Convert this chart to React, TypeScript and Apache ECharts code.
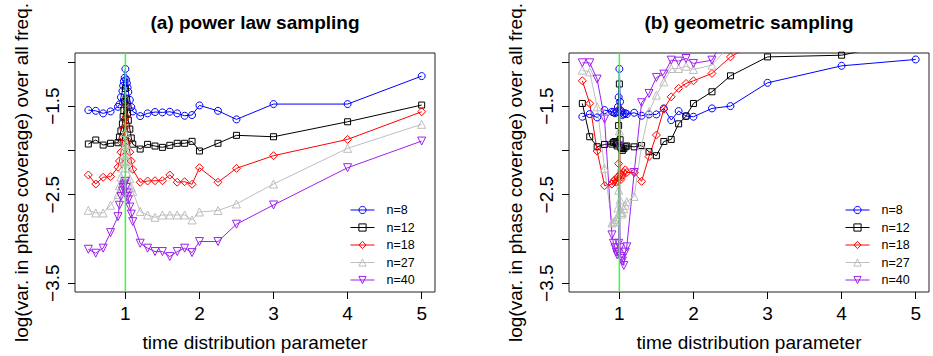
import React, { useEffect, useRef } from "react";
import * as echarts from "echarts";

// time distribution parameter grid
const xs = [0.5, 0.6, 0.7, 0.8, 0.9, 0.92, 0.94, 0.96, 0.97, 0.98, 0.99, 1, 1.01, 1.02, 1.03, 1.04, 1.06, 1.08, 1.1, 1.2, 1.3, 1.4, 1.5, 1.6, 1.7, 1.8, 1.9, 2, 2.25, 2.5, 3, 4, 5];

const seriesNames = ["n=8", "n=12", "n=18", "n=27", "n=40"];
const colors = ["#0000FF", "#000000", "#FF0000", "#BEBEBE", "#A020F0"];
const symbols = ["circle", "rect", "diamond", "triangle", "triangle"];
const symbolRotates = [0, 0, 0, 0, 180];
const symbolSizes = [7, 6, 8, 8, 8];

// (a) power law sampling
const a8 = [-1.545, -1.553, -1.582, -1.56, -1.508, -1.48, -1.4, -1.33, -1.27, -1.22, -1.18, -1.08, -1.2, -1.24, -1.29, -1.34, -1.43, -1.51, -1.56, -1.613, -1.582, -1.567, -1.571, -1.564, -1.582, -1.609, -1.601, -1.492, -1.553, -1.65, -1.477, -1.477, -1.161];
const a12 = [-1.928, -1.883, -1.94, -1.92, -1.914, -1.85, -1.78, -1.7, -1.62, -1.55, -1.45, -1.3, -1.42, -1.5, -1.58, -1.66, -1.76, -1.86, -1.93, -1.985, -1.932, -1.951, -1.966, -1.943, -1.92, -1.92, -1.898, -2.007, -1.92, -1.83, -1.846, -1.677, -1.488];
const a18 = [-2.278, -2.38, -2.304, -2.297, -2.19, -2.12, -2.02, -1.92, -1.85, -1.76, -1.65, -1.5, -1.62, -1.72, -1.82, -1.9, -2.02, -2.12, -2.214, -2.36, -2.346, -2.343, -2.343, -2.278, -2.36, -2.354, -2.383, -2.196, -2.36, -2.203, -2.06, -1.876, -1.564];
const a27 = [-2.677, -2.707, -2.707, -2.62, -2.5, -2.4, -2.3, -2.2, -2.12, -2.05, -1.95, -1.8, -1.93, -2.03, -2.12, -2.2, -2.32, -2.42, -2.466, -2.69, -2.73, -2.756, -2.73, -2.73, -2.73, -2.73, -2.786, -2.696, -2.68, -2.605, -2.38, -1.977, -1.706];
const a40 = [-3.117, -3.162, -3.105, -2.929, -2.749, -2.62, -2.52, -2.46, -2.42, -2.4, -2.38, -2.35, -2.42, -2.48, -2.52, -2.56, -2.64, -2.72, -2.805, -3.049, -3.105, -3.143, -3.143, -3.2, -3.143, -3.105, -3.155, -3.03, -3.03, -2.834, -2.617, -2.196, -1.895];

// (b) geometric sampling
const b8 = [-1.62, -1.59, -1.628, -1.545, -1.564, -1.57, -1.58, -1.57, -1.56, -1.51, -1.4, -1.08, -1.45, -1.55, -1.57, -1.6, -1.59, -1.58, -1.59, -1.575, -1.609, -1.594, -1.594, -1.526, -1.658, -1.556, -1.613, -1.62, -1.526, -1.5, -1.237, -1.045, -0.973];
const b12 = [-1.47, -1.846, -1.959, -1.933, -1.929, -1.91, -1.9, -1.92, -1.95, -1.93, -1.72, -1.25, -1.88, -1.97, -1.98, -2.0, -1.98, -1.96, -1.95, -1.96, -1.945, -2.015, -2.06, -1.9, -1.876, -1.7, -1.613, -1.47, -1.338, -1.158, -0.944, -0.925, -0.75];
const b18 = [-1.214, -1.47, -2.008, -2.399, -2.38, -2.35, -2.33, -2.36, -2.34, -2.3, -2.15, -1.53, -2.27, -2.33, -2.3, -2.28, -2.25, -2.22, -2.25, -2.25, -2.35, -2.07, -1.827, -1.534, -1.395, -1.3, -1.244, -1.214, -1.131, -0.944, -0.71, -0.6, -0.55];
const b27 = [-1.094, -1.113, -1.508, -2.204, -2.82, -2.81, -2.8, -2.78, -2.75, -2.65, -2.45, -1.78, -2.56, -2.7, -2.72, -2.7, -2.66, -2.62, -2.58, -2.52, -1.947, -1.564, -1.376, -1.226, -1.075, -1.075, -1.049, -1.086, -1.037, -0.805, -0.6, -0.5, -0.45];
const b40 = [-1.011, -1.011, -1.195, -1.646, -2.955, -3.05, -3.1, -3.15, -3.18, -3.15, -3.05, -1.95, -3.1, -3.2, -3.22, -3.25, -3.3, -3.15, -3.09, -2.25, -1.462, -1.357, -1.176, -1.139, -0.981, -0.992, -0.962, -1.018, -0.981, -0.6, -0.5, -0.45, -0.4];

const powerLaw = [a8, a12, a18, a27, a40];
const geometric = [b8, b12, b18, b27, b40];

const xTicks = [1, 2, 3, 4, 5];
const yTicks = [-1, -1.5, -2, -2.5, -3, -3.5];
const yTickLabels = [-1.5, -2.5, -3.5];
const refLine = 1;

const titles = ["(a) power law sampling", "(b) geometric sampling"];
const xName = "time distribution parameter";
const yName = "log(var. in phase coverage) over all freq.";

const FONT = "'Liberation Sans', Arial, Helvetica, sans-serif";
const fmt = (v: number) => String(v).replace("-", "\u2212");

const gridLefts = [75, 569];
const GW = 360;
const GT = 53;
const GH = 239;

export default function App() {
  const ref = useRef<HTMLDivElement>(null);
  useEffect(() => {
    if (!ref.current) return;
    const chart = echarts.init(ref.current, null, { renderer: "svg" });

    const grids = gridLefts.map((l) => ({
      left: l,
      top: GT,
      width: GW,
      height: GH,
      show: true,
      borderColor: "#222",
      borderWidth: 1,
      backgroundColor: "transparent",
      containLabel: false,
    }));

    const xAxes = gridLefts.map((_, gi) => ({
      type: "value",
      gridIndex: gi,
      min: 0.32,
      max: 5.18,
      axisLine: { show: false },
      axisTick: { show: true, inside: false, length: 7, customValues: xTicks, lineStyle: { color: "#000", width: 1 } },
      axisLabel: { customValues: xTicks, fontSize: 19, color: "#000", fontFamily: FONT, margin: 12, formatter: fmt },
      splitLine: { show: false },
    }));

    const yAxes = gridLefts.map((_, gi) => ({
      type: "value",
      gridIndex: gi,
      min: -3.6,
      max: -0.9,
      axisLine: { show: false },
      axisTick: { show: true, inside: false, length: 7, customValues: yTicks, lineStyle: { color: "#000", width: 1 } },
      axisLabel: { customValues: yTickLabels, rotate: 90, fontSize: 19, color: "#000", fontFamily: FONT, margin: 13, formatter: fmt },
      splitLine: { show: false },
    }));

    const series: any[] = [];
    [powerLaw, geometric].forEach((panel, gi) => {
      seriesNames.forEach((name, i) => {
        series.push({
          type: "line",
          name,
          xAxisIndex: gi,
          yAxisIndex: gi,
          data: xs.map((x, j) => [x, panel[i][j]]),
          symbol: symbols[i],
          symbolSize: symbolSizes[i],
          symbolRotate: symbolRotates[i],
          showAllSymbol: true,
          clip: true,
          lineStyle: { color: colors[i], width: 1 },
          itemStyle: { color: "rgba(255,255,255,0)", borderColor: colors[i], borderWidth: 1 },
          emphasis: { disabled: true },
          z: 2,
        });
      });
      series.push({
        type: "line",
        name: "ref",
        xAxisIndex: gi,
        yAxisIndex: gi,
        data: [[refLine, -3.6], [refLine, -0.9]],
        symbol: "none",
        lineStyle: { color: "#33FF33", width: 1.5 },
        silent: true,
        z: 3,
      });
    });

    const legends = [350, 845].map((l) => ({
      data: seriesNames,
      left: l,
      top: 203,
      orient: "vertical",
      itemWidth: 24,
      itemHeight: 9,
      itemGap: 3.5,
      padding: 0,
      selectedMode: false,
      lineStyle: { width: 1 },
      itemStyle: { borderWidth: 1 },
      textStyle: { fontSize: 12.5, lineHeight: 14, fontFamily: FONT, color: "#000", padding: [0, 0, 0, 7] },
    }));

    const centers = gridLefts.map((l) => l + GW / 2);
    const graphics: any[] = [];
    centers.forEach((cx, gi) => {
      graphics.push({
        type: "text",
        x: cx,
        y: 22.5,
        style: { text: titles[gi], fontSize: 19, fontWeight: "bold", fontFamily: FONT, fill: "#000", align: "center", verticalAlign: "middle" },
      });
      graphics.push({
        type: "text",
        x: cx,
        y: 342,
        style: { text: xName, fontSize: 19, fontFamily: FONT, fill: "#000", align: "center", verticalAlign: "middle" },
      });
      graphics.push({
        type: "text",
        x: gridLefts[gi] - 54,
        y: GT + GH / 2,
        rotation: Math.PI / 2,
        style: { text: yName, fontSize: 19, fontFamily: FONT, fill: "#000", align: "center", verticalAlign: "middle" },
      });
    });

    chart.setOption({
      animation: false,
      backgroundColor: "#fff",
      grid: grids,
      xAxis: xAxes,
      yAxis: yAxes,
      legend: legends,
      series,
      graphic: graphics,
    });
    return () => chart.dispose();
  }, []);
  return <div ref={ref} style={{ position: "fixed", left: 0, top: 0, width: 933, height: 356 }} />;
}
